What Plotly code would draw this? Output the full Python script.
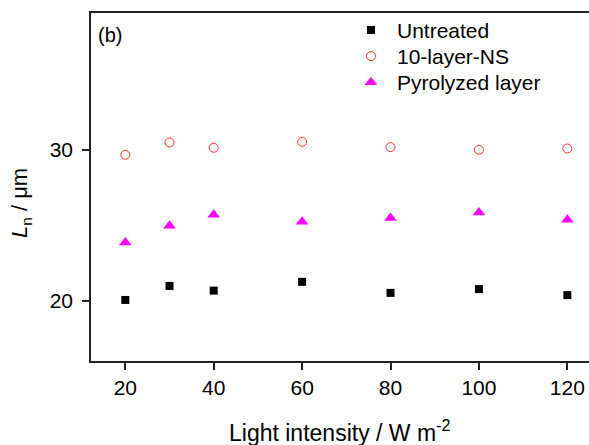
import plotly.graph_objects as go

# light intensity (W m^-2)
intensity = [20, 30, 40, 60, 80, 100, 120]

# diffusion length L_n (um) for each sample
untreated = [20.05, 20.98, 20.67, 21.25, 20.52, 20.77, 20.37]
ns_10layer = [29.68, 30.50, 30.15, 30.54, 30.19, 30.01, 30.10]
pyrolyzed = [23.86, 24.97, 25.70, 25.24, 25.48, 25.85, 25.37]

FONT = "Arial, Liberation Sans, sans-serif"

fig = go.Figure()

# one legend per series so the rows can sit as tight as in the original
fig.add_trace(go.Scatter(
    x=intensity, y=untreated, mode="markers", name="Untreated",
    marker=dict(symbol="square", size=8, color="black"),
    legend="legend", showlegend=True,
))
fig.add_trace(go.Scatter(
    x=intensity, y=ns_10layer, mode="markers", name="10-layer-NS",
    marker=dict(symbol="circle-open", size=9, color="#ff3030", line=dict(width=1)),
    legend="legend2", showlegend=True,
))
fig.add_trace(go.Scatter(
    x=intensity, y=pyrolyzed, mode="markers", name="Pyrolyzed layer",
    marker=dict(symbol="triangle-up", size=11, color="#ff00ff"),
    legend="legend3", showlegend=True,
))

leg = dict(x=0.51, xanchor="left", yanchor="top", bgcolor="rgba(0,0,0,0)",
           font=dict(size=21), itemwidth=42)

fig.update_layout(
    width=589, height=445,
    margin=dict(l=91, r=0, t=13, b=84),
    showlegend=True,
    plot_bgcolor="white", paper_bgcolor="white",
    font=dict(family=FONT, size=21, color="black"),
    legend=dict(leg, y=1.009),
    legend2=dict(leg, y=0.934),
    legend3=dict(leg, y=0.859),
    annotations=[
        dict(text="(b)", x=0.010, y=0.937, xref="paper", yref="paper",
             xanchor="left", yanchor="middle", showarrow=False,
             font=dict(size=20)),
        dict(text="<i>L</i><sub>n</sub> / μm", x=-0.1406, y=0.454,
             xref="paper", yref="paper", textangle=-90,
             xanchor="center", yanchor="middle", showarrow=False,
             font=dict(size=22)),
        dict(text="Light intensity / W m<sup>-2</sup>", x=0.499, y=-0.202,
             xref="paper", yref="paper", xanchor="center", yanchor="middle",
             showarrow=False, font=dict(size=23)),
    ],
)

fig.update_xaxes(
    range=[12.24, 124.9], tickvals=[20, 40, 60, 80, 100, 120],
    showline=True, linecolor="#222", linewidth=1.5, mirror=True,
    ticks="outside", ticklen=7, tickcolor="#222", tickwidth=1.5,
    showgrid=False, zeroline=False,
)
fig.update_yaxes(
    range=[16.0, 39.09], tickvals=[20, 30],
    showline=True, linecolor="#222", linewidth=1.5,
    ticks="outside", ticklen=7, tickcolor="#222", tickwidth=1.5,
    ticklabelstandoff=5,
    showgrid=False, zeroline=False,
)

# drop the default body margin so the figure fills the window exactly
fig.write_html(
    "out.html",
    config={"displayModeBar": False},
    post_script="document.body.style.margin='0';document.body.style.overflow='hidden';",
)
